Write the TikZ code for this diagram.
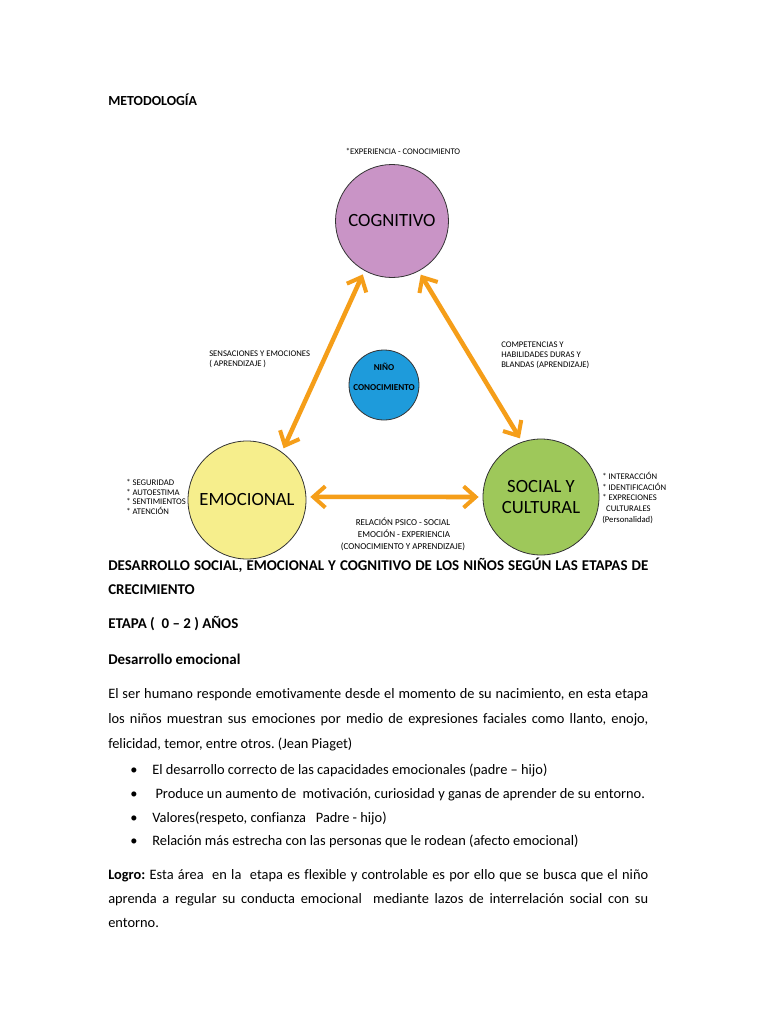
\documentclass[tikz,border=0pt]{standalone}
\usepackage{fontspec}
\setmainfont{Carlito}[Ligatures=NoCommon]
\usetikzlibrary{arrows.meta}
\definecolor{cogpink}{RGB}{201,148,198}
\definecolor{ninoblue}{RGB}{30,155,219}
\definecolor{emoyellow}{RGB}{246,238,140}
\definecolor{socgreen}{RGB}{158,200,90}
\definecolor{arroworange}{RGB}{245,158,25}
\frenchspacing
\newcommand{\fullline}[1]{\makebox[405pt][s]{#1}}
\begin{document}
\begin{tikzpicture}[x=0.75pt, y=-0.75pt]
  \tikzstyle{area} = [circle, draw=black!80, line width=0.6pt, inner sep=0pt, align=center, font=\fontsize{14}{16}\selectfont]
  \tikzstyle{note} = [inner sep=0pt, align=left, font=\fontsize{6.5}{7.2}\selectfont]
  \tikzstyle{line} = [anchor=base west, inner sep=0pt, font=\fontsize{10.8}{18.4}\selectfont]
  \tikzstyle{headline} = [line, font=\bfseries\fontsize{11.2}{18.4}\selectfont]
  \tikzstyle{link} = [draw=arroworange, line width=3.4pt, {Straight Barb[length=9pt,width=16pt,line width=3pt]}-{Straight Barb[length=9pt,width=16pt,line width=3pt]}, shorten <=3pt, shorten >=3pt]

  \useasboundingbox (0,0) rectangle (768,1024);
  \fill[white] (0,0) rectangle (768,1024);

  \node [line, font=\bfseries\fontsize{10.4}{18.4}\selectfont] (title) at (108,105) {METODOLOGÍA};

  % the four circles
  \node [area, fill=cogpink, minimum size=113*0.75pt] (cog) at (392,221) {COGNITIVO};
  \node [area, fill=ninoblue, minimum size=70*0.75pt] (nino) at (384,385) {};
  \node [inner sep=0pt, align=center, font=\bfseries\fontsize{6.8}{15}\selectfont] (ninotext) at (384,377) {NIÑO\\CONOCIMIENTO};
  \node [area, fill=emoyellow, minimum size=118*0.75pt] (emo) at (247,500) {EMOCIONAL};
  \node [area, fill=socgreen, minimum size=116*0.75pt] (soc) at (541,497) {SOCIAL Y\\CULTURAL};

  % notes around the circles
  \node [note, anchor=south] (cognote) at (403,155) {*EXPERIENCIA - CONOCIMIENTO};
  \node [note, anchor=north west] (senslabel) at (209,351) {SENSACIONES Y EMOCIONES\\( APRENDIZAJE )};
  \node [note, anchor=north west] (complabel) at (501,342) {COMPETENCIAS Y\\HABILIDADES DURAS Y\\BLANDAS (APRENDIZAJE)};
  \node [note, anchor=north west] (emonote) at (126,479) {* SEGURIDAD\\* AUTOESTIMA\\* SENTIMIENTOS\\* ATENCIÓN};
  \node [note, anchor=north west, font=\fontsize{6.5}{8}\selectfont] (socnote) at (602,472) {* INTERACCIÓN\\* IDENTIFICACIÓN\\* EXPRECIONES\\\ \ CULTURALES\\(Personalidad)};
  \node [note, anchor=north, align=center, font=\fontsize{6.8}{8.8}\selectfont] (rellabel) at (403,518) {RELACIÓN PSICO - SOCIAL\\\ EMOCIÓN - EXPERIENCIA\\(CONOCIMIENTO Y APRENDIZAJE)};

  % arrows between the areas
  \draw [link] (cog.241) -- (emo.54);
  \draw [link] (cog.298) -- (soc.109);
  \draw [link] (emo.3) -- (soc.180);

  % text of the page
  \node [headline] (head1) at (108,570) {\fullline{DESARROLLO SOCIAL, EMOCIONAL Y COGNITIVO DE LOS NIÑOS SEGÚN LAS ETAPAS DE}};
  \node [headline] (head2) at (108,594) {CRECIMIENTO};
  \node [headline] (etapa) at (108,628) {ETAPA (\ \ 0 – 2 ) AÑOS};
  \node [headline] (desemo) at (108,664) {Desarrollo emocional};
  \node [line] (par1) at (108,698) {\fullline{El ser humano responde emotivamente desde el momento de su nacimiento, en esta etapa}};
  \node [line] (par2) at (108,723) {\fullline{los niños muestran sus emociones por medio de expresiones faciales como llanto, enojo,}};
  \node [line] (par3) at (108,748) {felicidad, temor, entre otros. (Jean Piaget)};
  \foreach \y/\txt in {774/El desarrollo correcto de las capacidades emocionales (padre – hijo),
                       798/\ Produce un aumento de\ \ motivación{,} curiosidad y ganas de aprender de su entorno.,
                       822/Valores(respeto{,} confianza\ \ \ Padre - hijo),
                       845/Relación más estrecha con las personas que le rodean (afecto emocional)} {
    \node [line] at (130,\y) {•};
    \node [line] at (152,\y) {\txt};
  }
  \node [line] (logro1) at (108,879) {\fullline{\textbf{Logro:} Esta área\ \ en la\ \ etapa es flexible y controlable es por ello que se busca que el niño}};
  \node [line] (logro2) at (108,903) {\fullline{aprenda a regular su conducta emocional\ \ mediante lazos de interrelación social con su}};
  \node [line] (logro3) at (108,927) {entorno.};
\end{tikzpicture}
\end{document}
